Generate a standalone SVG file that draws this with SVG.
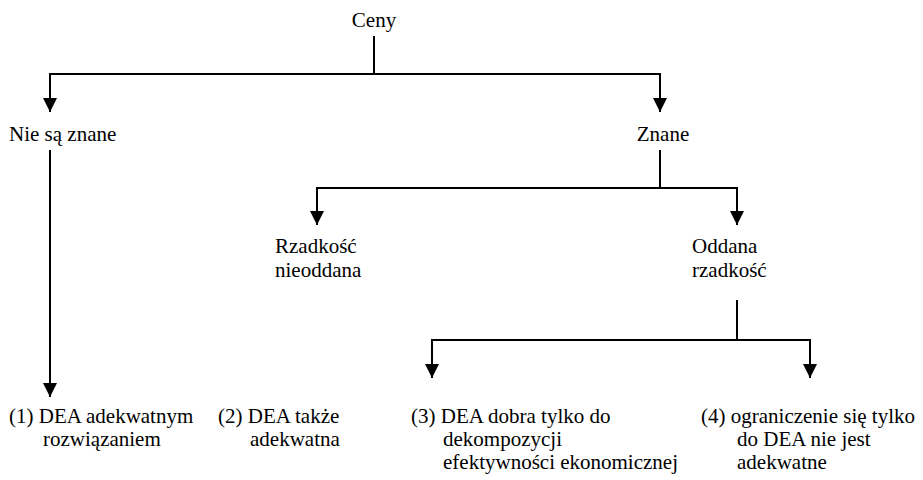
<svg xmlns="http://www.w3.org/2000/svg" width="923" height="480" viewBox="0 0 923 480" font-family="'Liberation Serif', Tinos, 'Times New Roman', serif">
<defs>
<marker id="ah" viewBox="0 0 14 14" refX="14" refY="7" markerWidth="14" markerHeight="14" markerUnits="userSpaceOnUse" orient="auto">
<path d="M0,0 L14,7 L0,14 Z" fill="#000"/>
</marker>
</defs>
<rect width="923" height="480" fill="#fff"/>
<g id="connectors" fill="none" stroke="#000" stroke-width="2">
<path d="M374,36 V74"/>
<path d="M374,74 H50 V112" marker-end="url(#ah)"/>
<path d="M374,74 H660 V112" marker-end="url(#ah)"/>
<path d="M50,150 V397" marker-end="url(#ah)"/>
<path d="M660,150 V188"/>
<path d="M660,188 H317 V225" marker-end="url(#ah)"/>
<path d="M660,188 H737 V225" marker-end="url(#ah)"/>
<path d="M737,300 V340"/>
<path d="M737,340 H432 V378" marker-end="url(#ah)"/>
<path d="M737,340 H810 V378" marker-end="url(#ah)"/>
</g>
<g font-size="21" fill="#000">
<g id="ceny"><text x="374" y="27" text-anchor="middle">Ceny</text></g>
<g id="nie-sa-znane"><text x="9" y="141">Nie są znane</text></g>
<g id="znane"><text x="663" y="141" text-anchor="middle">Znane</text></g>
<g id="rzadkosc-nieoddana"><text x="275" y="253">Rzadkość</text><text x="275" y="277">nieoddana</text></g>
<g id="oddana-rzadkosc"><text x="692" y="253">Oddana</text><text x="692" y="277">rzadkość</text></g>
<g id="n1"><text x="9" y="423">(1) DEA adekwatnym</text><text x="43" y="446">rozwiązaniem</text></g>
<g id="n2"><text x="218" y="423">(2) DEA także</text><text x="250" y="446">adekwatna</text></g>
<g id="n3"><text x="411" y="423">(3) DEA dobra tylko do</text><text x="443" y="446">dekompozycji</text><text x="443" y="469">efektywności ekonomicznej</text></g>
<g id="n4"><text x="701" y="423">(4) ograniczenie się tylko</text><text x="737" y="446">do DEA nie jest</text><text x="737" y="469">adekwatne</text></g>
</g>
</svg>
